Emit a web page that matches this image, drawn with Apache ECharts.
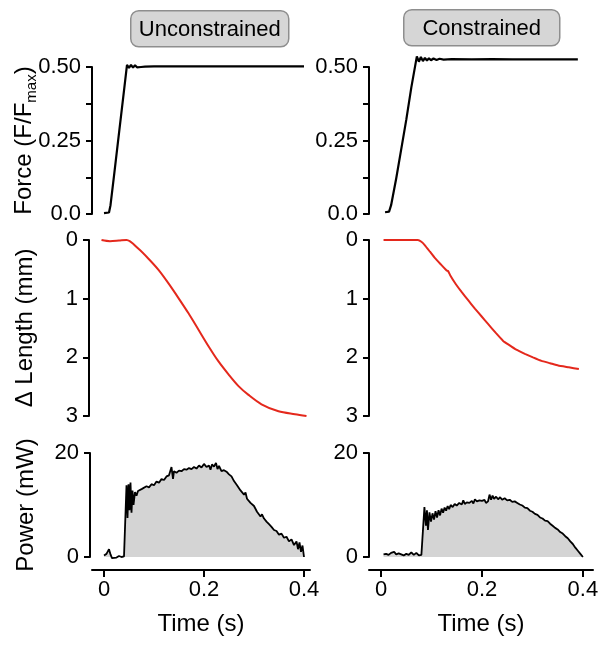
<!DOCTYPE html>
<html>
<head>
<meta charset="utf-8">
<script src="https://cdn.jsdelivr.net/npm/echarts@6/dist/echarts.min.js"></script>
<style>html,body{margin:0;padding:0;background:#fff}#c{width:607px;height:651px}</style>
</head>
<body>
<div id="c"></div>
<script>
// ---------- data ----------
const panelTitles = ['Unconstrained', 'Constrained'];
const timeTicks = [0, 0.2, 0.4];
const timeTickLabels = ['0', '0.2', '0.4'];
const forceTicks = [0, 0.25, 0.5];
const forceTickLabels = ['0.0', '0.25', '0.50'];
const lengthTickLabels = ['0', '1', '2', '3'];
const powerTickLabels = ['0', '20'];

// Force (F/Fmax) vs time (s)
const forceUnconstrained = [
  [0.000,0.003],[0.010,0.005],[0.013,0.030],[0.020,0.130],[0.030,0.275],[0.040,0.420],[0.046,0.507],
  [0.050,0.497],[0.054,0.507],[0.058,0.498],[0.062,0.506],[0.066,0.499],[0.070,0.505],[0.074,0.500],
  [0.078,0.504],[0.082,0.501],[0.086,0.503],[0.100,0.502],[0.150,0.502],[0.200,0.502],[0.250,0.502],
  [0.300,0.502],[0.350,0.502],[0.400,0.502]
];
const forceConstrained = [
  [0.008,0.006],[0.016,0.008],[0.020,0.030],[0.030,0.120],[0.040,0.220],[0.050,0.320],[0.060,0.430],[0.071,0.536],
  [0.075,0.518],[0.079,0.534],[0.083,0.520],[0.087,0.531],[0.091,0.522],[0.095,0.530],[0.099,0.523],
  [0.104,0.529],[0.110,0.524],[0.116,0.528],[0.124,0.525],[0.140,0.527],[0.180,0.526],[0.220,0.527],
  [0.260,0.526],[0.300,0.526],[0.340,0.526],[0.390,0.526]
];

// Delta length (mm) vs time (s)
const lengthUnconstrained = [
  [-0.005,0.00],[0.012,0.02],[0.030,0.01],[0.045,0.00],[0.069,0.15],[0.089,0.32],[0.109,0.51],
  [0.129,0.74],[0.149,0.99],[0.169,1.25],[0.189,1.53],[0.209,1.81],[0.229,2.07],[0.249,2.29],
  [0.269,2.49],[0.289,2.64],[0.315,2.80],[0.349,2.92],[0.382,2.97],[0.405,3.00]
];
const lengthConstrained = [
  [0.005,0.00],[0.040,0.00],[0.073,0.00],[0.080,0.03],[0.087,0.09],[0.097,0.20],[0.107,0.31],
  [0.119,0.42],[0.130,0.52],[0.133,0.53],[0.137,0.60],[0.148,0.75],[0.160,0.89],[0.173,1.03],
  [0.186,1.17],[0.199,1.30],[0.212,1.43],[0.227,1.58],[0.242,1.72],[0.252,1.78],[0.268,1.87],
  [0.285,1.94],[0.301,2.00],[0.318,2.06],[0.335,2.10],[0.351,2.14],[0.372,2.17],[0.392,2.20]
];

// Power (mW) vs time (s)
const powerUnconstrained = [
  [0.000,0.3],[0.005,0.6],[0.010,1.5],[0.013,0.5],[0.016,-0.2],[0.020,0.1],[0.025,-0.1],[0.030,0.2],
  [0.035,0.0],[0.040,0.1],[0.043,0.2],[0.045,13.8],[0.047,7.5],[0.049,14.0],[0.051,9.0],[0.053,14.3],
  [0.055,8.5],[0.057,12.8],[0.059,10.0],[0.062,12.5],[0.065,11.8],[0.068,12.7],[0.072,12.6],[0.076,13.1],
  [0.080,13.0],[0.085,13.6],[0.090,13.4],[0.095,14.0],[0.100,13.8],[0.105,14.5],[0.110,14.3],[0.115,15.0],
  [0.120,14.8],[0.125,15.5],[0.130,15.7],[0.135,17.3],[0.138,15.0],[0.140,16.5],[0.145,16.2],[0.150,16.6],
  [0.155,16.5],[0.160,16.9],[0.165,16.8],[0.170,17.1],[0.175,16.9],[0.180,17.3],[0.185,17.0],[0.190,17.6],
  [0.195,17.2],[0.200,17.9],[0.205,17.3],[0.210,17.6],[0.213,16.8],[0.216,17.8],[0.220,17.4],[0.224,18.1],
  [0.227,16.9],[0.230,17.5],[0.235,16.5],[0.240,16.7],[0.245,16.4],[0.250,15.9],[0.255,15.5],[0.260,14.6],
  [0.263,14.9],[0.266,13.8],[0.270,13.9],[0.273,12.8],[0.276,13.1],[0.280,12.0],[0.283,12.4],[0.286,11.2],
  [0.290,11.3],[0.293,10.4],[0.296,10.7],[0.300,9.8],[0.303,9.9],[0.306,8.7],[0.310,9.0],[0.313,7.8],
  [0.316,8.2],[0.320,7.4],[0.325,6.8],[0.330,6.3],[0.335,5.8],[0.340,5.2],[0.345,5.0],[0.350,4.3],
  [0.355,4.5],[0.360,3.7],[0.365,3.9],[0.370,3.0],[0.375,3.4],[0.380,2.3],[0.385,3.0],[0.388,1.5],
  [0.391,2.8],[0.394,1.0],[0.397,2.2],[0.400,0.0]
];
const powerConstrained = [
  [0.005,0.5],[0.010,0.6],[0.015,0.4],[0.020,0.8],[0.026,1.0],[0.030,0.5],[0.035,0.7],[0.040,0.5],
  [0.045,0.3],[0.050,0.6],[0.055,0.4],[0.060,0.9],[0.065,0.4],[0.070,0.8],[0.075,0.3],[0.080,0.4],
  [0.083,0.3],[0.086,9.6],[0.089,6.0],[0.091,9.0],[0.093,5.2],[0.096,8.6],[0.099,6.8],[0.102,8.4],
  [0.105,7.2],[0.108,8.8],[0.111,7.6],[0.114,9.0],[0.117,8.0],[0.120,9.3],[0.123,8.5],[0.126,9.5],
  [0.129,8.9],[0.132,9.8],[0.135,9.2],[0.138,10.0],[0.142,9.6],[0.146,10.2],[0.150,9.9],[0.155,10.4],
  [0.160,10.1],[0.163,10.9],[0.166,10.2],[0.170,10.5],[0.175,10.4],[0.180,10.8],[0.183,10.3],[0.186,11.1],
  [0.190,10.7],[0.195,10.9],[0.200,10.8],[0.205,11.0],[0.208,10.4],[0.212,10.7],[0.215,12.0],[0.218,11.0],
  [0.221,11.8],[0.224,11.2],[0.228,11.6],[0.232,11.1],[0.236,11.5],[0.240,11.0],[0.245,11.3],[0.250,10.9],
  [0.255,11.0],[0.260,10.6],[0.265,10.7],[0.270,10.4],[0.275,10.1],[0.280,9.9],[0.285,9.5],[0.290,9.4],
  [0.295,8.9],[0.300,8.7],[0.305,8.3],[0.310,8.1],[0.315,7.6],[0.320,7.4],[0.325,7.0],[0.330,6.9],
  [0.335,6.4],[0.340,6.0],[0.345,5.6],[0.350,5.3],[0.355,4.8],[0.360,4.5],[0.365,4.0],[0.370,3.6],
  [0.375,3.0],[0.380,2.5],[0.385,1.8],[0.390,1.2],[0.395,0.6],[0.400,0.0]
];

// ---------- chart ----------
const FONT = '"Liberation Sans", Arial, Helvetica, sans-serif';
const chart = echarts.init(document.getElementById('c'), null, {renderer: 'canvas'});

const cols = [
  {left: 92, width: 218, min: -0.024, max: 0.412},
  {left: 369, width: 224, min: -0.0238, max: 0.42}
];
const rows = [
  {top: 67, height: 147},
  {top: 240, height: 176},
  {top: 453, height: 104}
];

const grids = [], xAxes = [], yAxes = [], series = [];
const axisLineStyle = {show: true, onZero: false, lineStyle: {color: '#000', width: 2}};
const tickStyle = {show: true, length: 6, lineStyle: {color: '#000', width: 2}};
const labelStyle = {color: '#000', fontSize: 22, fontFamily: FONT};
const nameStyle = {color: '#000', fontSize: 24, fontFamily: FONT};

const leftNames = [
  {name: 'Force (F/F{sub|max})', gap: 53, offset: 0},
  {name: 'Δ Length (mm)', gap: 49, offset: 3},
  {name: 'Power (mW)', gap: 49, offset: 2}
];

const dataSets = [
  [forceUnconstrained, lengthUnconstrained, powerUnconstrained],
  [forceConstrained, lengthConstrained, powerConstrained]
];

cols.forEach((c, ci) => {
  rows.forEach((r, ri) => {
    const idx = grids.length;
    grids.push({left: c.left, top: r.top, width: c.width, height: r.height});
    const isBottom = ri === 2;
    xAxes.push({
      type: 'value', gridIndex: idx, min: c.min, max: c.max, show: isBottom,
      position: 'bottom', offset: 13,
      axisLine: {show: true, onZero: false, lineStyle: {color: '#000', width: 2}},
      axisTick: {show: true, length: 7, lineStyle: {color: '#000', width: 2}, customValues: timeTicks},
      axisLabel: Object.assign({}, labelStyle, {margin: 9, customValues: timeTicks,
        formatter: v => { const k = timeTicks.findIndex(t => Math.abs(t - v) < 1e-9); return k >= 0 ? timeTickLabels[k] : ''; }}),
      splitLine: {show: false},
      name: isBottom ? 'Time (s)' : '', nameLocation: 'middle', nameGap: 42, nameMoveOverlap: false,
      nameTextStyle: nameStyle
    });
    let y;
    const nm = ci === 0 ? leftNames[ri] : null;
    const common = {
      type: 'value', gridIndex: idx, position: 'left',
      axisLine: axisLineStyle, axisTick: tickStyle, splitLine: {show: false},
      name: nm ? nm.name : '', nameLocation: 'middle', nameGap: nm ? nm.gap : 0, nameMoveOverlap: false,
      offset: nm ? nm.offset : 0,
      nameTextStyle: Object.assign({}, nameStyle, {
        lineHeight: 30,
        rich: {sub: {fontSize: 15, fontFamily: FONT, lineHeight: 14, verticalAlign: 'bottom', color: '#000'}}
      })
    };
    if (ri === 0) {
      y = Object.assign(common, {min: 0, max: 0.5, interval: 0.125,
        axisLabel: Object.assign({}, labelStyle, {margin: 11,
          formatter: v => { const k = forceTicks.findIndex(t => Math.abs(t - v) < 1e-9); return k >= 0 ? forceTickLabels[k] : ''; }})});
    } else if (ri === 1) {
      y = Object.assign(common, {min: 0, max: 3, interval: 1, inverse: true,
        axisLabel: Object.assign({}, labelStyle, {margin: 11, formatter: v => lengthTickLabels[Math.round(v)] || ''})});
    } else {
      y = Object.assign(common, {min: 0, max: 20, interval: 20,
        axisLabel: Object.assign({}, labelStyle, {margin: 11, formatter: v => powerTickLabels[Math.round(v / 20)] || ''})});
    }
    yAxes.push(y);
    const data = dataSets[ci][ri];
    const s = {
      type: 'line', xAxisIndex: idx, yAxisIndex: idx, data: data, showSymbol: false, symbol: 'none',
      clip: false, silent: true, animation: false
    };
    if (ri === 0) s.lineStyle = {color: '#000', width: 2.2};
    if (ri === 1) { s.lineStyle = {color: '#e4281c', width: 2}; s.smooth = ci === 0 ? 0.3 : 0.1; }
    if (ri === 2) { s.lineStyle = {color: '#000', width: 1.8}; s.areaStyle = {color: '#d4d4d4', opacity: 1}; }
    series.push(s);
  });
});

const titleBoxes = [
  {left: 130, top: 10, width: 158, height: 36},
  {left: 403, top: 9, width: 156, height: 36}
];
const graphic = titleBoxes.map((b, i) => ({
  type: 'group', left: b.left, top: b.top,
  children: [
    {type: 'rect', shape: {x: 0, y: 0, width: b.width, height: b.height, r: 8},
     style: {fill: '#d6d6d6', stroke: '#8e8e8e', lineWidth: 1.5}},
    {type: 'text', x: b.width / 2, y: b.height / 2 + 1,
     style: {text: panelTitles[i], fill: '#000', font: '22px ' + FONT, textAlign: 'center', textVerticalAlign: 'middle'}}
  ]
}));

chart.setOption({
  animation: false,
  backgroundColor: '#fff',
  grid: grids, xAxis: xAxes, yAxis: yAxes, series: series, graphic: graphic
});
</script>
</body>
</html>
